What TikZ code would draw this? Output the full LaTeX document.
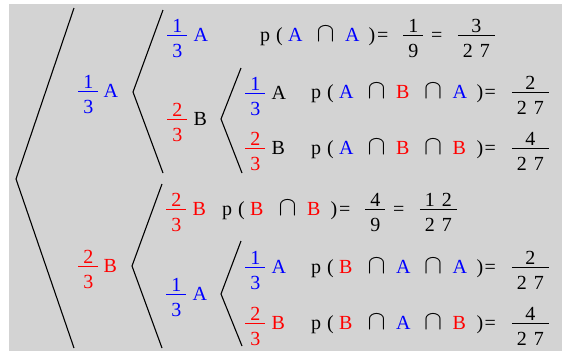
\documentclass[tikz,border=0pt]{standalone}
\usepackage{amsmath}
\usepackage{graphicx}
\usepackage{fontspec}
\setmainfont{Liberation Serif}
\usepackage{xcolor}
\usepackage{tikz}
\definecolor{pane}{HTML}{D3D3D3}
\definecolor{blu}{HTML}{0000FF}
\definecolor{rd}{HTML}{FF0000}
\newcommand{\frc}[2]{$\genfrac{}{}{1pt}{}{\hspace{5pt}\mbox{#1}\hspace{5pt}}{\rule{0pt}{20pt}\hspace{5pt}\mbox{#2}\hspace{5pt}}$}
\newcommand{\tok}[2]{\makebox[#1pt][l]{#2}}
\newcommand{\tw}[2]{#1\hspace{7pt}#2}
\newcommand{\cA}{\textcolor{blu}{A}}
\newcommand{\cB}{\textcolor{rd}{B}}
\newcommand{\ncap}{\scalebox{1.3}{$\cap$}}
% p ( X n Y ) = frac  and  p ( X n Y n Z ) = frac
\newcommand{\pduo}[6]{\tok{16}{p}\tok{12}{(}\tok{28.5}{#1}\tok{28.5}{\ncap}\tok{23.5}{#2}\tok{8.5}{)}\tok{25}{=}\tok{29}{\frc{#3}{#4}}\tok{25.5}{=}\frc{#5}{#6}}
\newcommand{\ptri}[5]{\tok{16}{p}\tok{12}{(}\tok{28.5}{#1}\tok{28.5}{\ncap}\tok{28}{#2}\tok{28.5}{\ncap}\tok{24}{#3}\tok{8}{)}\tok{26}{=}\frc{#4}{#5}}

\begin{document}
\begin{tikzpicture}[
  x=1pt, y=-1pt,
  lbl/.style = {inner sep=0pt, anchor=base west, font=\fontsize{20}{24}\selectfont},
  br/.style  = {draw=black, line width=1.1pt},
]

\useasboundingbox (0,0) rectangle (562,351);
\fill[pane] (9,4) rectangle (562,351);

% ---- branch points ----------------------------------------------------
\coordinate (o)  at (16,179);
\coordinate (oA) at (74,8);
\coordinate (oB) at (74,348);
\coordinate (p)  at (133,92);
\coordinate (pA) at (163,10);
\coordinate (pB) at (163,173);
\coordinate (q)  at (221,119);
\coordinate (qA) at (241,68);
\coordinate (qB) at (242,173);
\coordinate (s)  at (132,266);
\coordinate (sB) at (162,184);
\coordinate (sA) at (162,348);
\coordinate (t)  at (221,294);
\coordinate (tA) at (241,241);
\coordinate (tB) at (242,346);

\draw[br] (oA) -- (o) -- (oB);
\draw[br] (pA) -- (p) -- (pB);
\draw[br] (qA) -- (q) -- (qB);
\draw[br] (sB) -- (s) -- (sA);
\draw[br] (tA) -- (t) -- (tB);

% ---- first draw -------------------------------------------------------
\node[lbl, text=blu] (a) at (77,97)  {\frc{1}{3}\hspace{4pt}A};
\node[lbl, text=rd]  (b) at (77,272) {\frc{2}{3}\hspace{4pt}B};

% ---- second draw ------------------------------------------------------
\node[lbl, text=blu] (aa) at (166,41)  {\frc{1}{3}\hspace{5pt}A};
\node[lbl]           (ab) at (166,125) {\textcolor{rd}{\frc{2}{3}}\hspace{5pt}B};
\node[lbl, text=rd]  (ba) at (165,215) {\frc{2}{3}\hspace{5pt}B};
\node[lbl, text=blu] (bb) at (165,300) {\frc{1}{3}\hspace{5pt}A};

% ---- third draw -------------------------------------------------------
\node[lbl]           (aba) at (244,99)  {\textcolor{blu}{\frc{1}{3}}\hspace{5pt}A};
\node[lbl]           (abb) at (244,154) {\textcolor{rd}{\frc{2}{3}}\hspace{5pt}B};
\node[lbl, text=blu] (bba) at (244,273) {\frc{1}{3}\hspace{5pt}A};
\node[lbl, text=rd]  (bbb) at (244,329) {\frc{2}{3}\hspace{5pt}B};

% ---- probabilities ----------------------------------------------------
\node[lbl] (paa)  at (260,41)  {\pduo{\cA}{\cA}{1}{9}{3}{\tw{2}{7}}};
\node[lbl] (paba) at (311,98)  {\ptri{\cA}{\cB}{\cA}{2}{\tw{2}{7}}};
\node[lbl] (pabb) at (311,154) {\ptri{\cA}{\cB}{\cB}{4}{\tw{2}{7}}};
\node[lbl] (pbb)  at (222,215) {\pduo{\cB}{\cB}{4}{9}{\tw{1}{2}}{\tw{2}{7}}};
\node[lbl] (pbaa) at (311,273) {\ptri{\cB}{\cA}{\cA}{2}{\tw{2}{7}}};
\node[lbl] (pbab) at (311,329) {\ptri{\cB}{\cA}{\cB}{4}{\tw{2}{7}}};

\end{tikzpicture}
\end{document}
